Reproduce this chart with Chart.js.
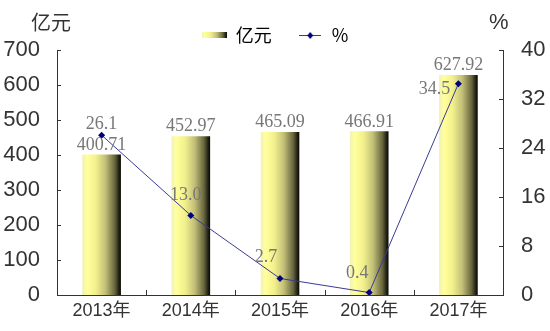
<!DOCTYPE html>
<html>
<head>
<meta charset="utf-8">
<script src="https://cdn.jsdelivr.net/npm/chart.js@4/dist/chart.umd.min.js"></script>
<style>
html, body { margin: 0; padding: 0; background: #fff; }
</style>
</head>
<body>
<canvas id="chart" width="550" height="331"></canvas>
<script>
// 数据
const years = ['2013年', '2014年', '2015年', '2016年', '2017年'];
const amount = [400.71, 452.97, 465.09, 466.91, 627.92];   // 亿元
const growth = [26.1, 13.0, 2.7, 0.4, 34.5];                // %
const amountLabels = ['400.71', '452.97', '465.09', '466.91', '627.92'];
const growthLabels = ['26.1', '13.0', '2.7', '0.4', '34.5'];

const SANS = '"Liberation Sans", Arial, "Noto Sans CJK SC", sans-serif';
const CJK = '"Noto Sans CJK SC", "Liberation Sans", sans-serif';
const SERIF = '"Liberation Serif", "Times New Roman", serif';

// 数值标签相对点的偏移 (样式)
const growthOffsets = [[0, -11], [-5, -20], [-14, -21], [-12, -19], [-24, 6]];

function fillGradient(ctx, x0, x1) {
    const g = ctx.createLinearGradient(x0, 0, x1, 0);
    g.addColorStop(0, '#f2f2b8');
    g.addColorStop(0.12, '#ffff9c');
    g.addColorStop(0.35, '#f2f08c');
    g.addColorStop(0.6, '#c2bf78');
    g.addColorStop(0.85, '#66643c');
    g.addColorStop(0.96, '#1e1e12');
    g.addColorStop(1, '#0c0c06');
    return g;
}

// 图例小图标
function makeBarKey() {
    const c = document.createElement('canvas');
    c.width = 25; c.height = 6;
    const x = c.getContext('2d');
    x.fillStyle = fillGradient(x, 0, 25);
    x.fillRect(0, 0, 25, 6);
    return c;
}
function makeLineKey() {
    const c = document.createElement('canvas');
    c.width = 22; c.height = 8;
    const x = c.getContext('2d');
    x.strokeStyle = '#3a3a96';
    x.lineWidth = 1;
    x.beginPath(); x.moveTo(0, 4.5); x.lineTo(22, 4.5); x.stroke();
    x.fillStyle = '#00007a';
    x.beginPath(); x.moveTo(11, 1); x.lineTo(14, 4.5); x.lineTo(11, 8); x.lineTo(8, 4.5); x.closePath(); x.fill();
    return c;
}
const barKey = makeBarKey();
const lineKey = makeLineKey();

const legendHeight = {
    id: 'legendHeight',
    beforeInit(chart) {
        const fit = chart.legend.fit;
        chart.legend.fit = function () {
            fit.bind(chart.legend)();
            this.height = 50;
        };
    }
};

const inTicks = {
    id: 'inTicks',
    afterDraw(chart) {
        const { ctx, chartArea: a, scales } = chart;
        ctx.save();
        ctx.strokeStyle = '#333';
        ctx.lineWidth = 1;
        ctx.beginPath();
        scales.y.ticks.forEach(t => {
            const y = Math.round(scales.y.getPixelForValue(t.value)) + 0.5;
            ctx.moveTo(a.left, y); ctx.lineTo(a.left + 4, y);
        });
        scales.y1.ticks.forEach(t => {
            const y = Math.round(scales.y1.getPixelForValue(t.value)) + 0.5;
            ctx.moveTo(a.right, y); ctx.lineTo(a.right - 4, y);
        });
        for (let i = 1; i < years.length; i++) {
            const x = Math.round((scales.x.getPixelForValue(i - 1) + scales.x.getPixelForValue(i)) / 2) + 0.5;
            ctx.moveTo(x, a.bottom); ctx.lineTo(x, a.bottom - 5);
        }
        ctx.stroke();

        // 轴标题
        ctx.fillStyle = '#333';
        ctx.font = '20px ' + CJK;
        ctx.textBaseline = 'middle';
        ctx.textAlign = 'left';
        ctx.fillText('亿元', 31, 22);
        ctx.font = '22px ' + SANS;
        ctx.fillText('%', 489, 23);
        ctx.restore();
    }
};

const valueLabels = {
    id: 'valueLabels',
    afterDatasetsDraw(chart) {
        const ctx = chart.ctx;
        ctx.save();
        ctx.font = '18px ' + SERIF;
        ctx.fillStyle = '#777';
        ctx.textAlign = 'center';
        ctx.textBaseline = 'alphabetic';
        chart.getDatasetMeta(0).data.forEach((bar, i) => {
            ctx.fillText(amountLabels[i], bar.x, bar.y - 5);
        });
        ctx.textBaseline = 'middle';
        chart.getDatasetMeta(1).data.forEach((pt, i) => {
            const o = growthOffsets[i];
            ctx.fillText(growthLabels[i], pt.x + o[0], pt.y + o[1]);
        });
        ctx.restore();
    }
};

const ctx = document.getElementById('chart').getContext('2d');
new Chart(ctx, {
    type: 'bar',
    data: {
        labels: years,
        datasets: [
            {
                label: '亿元',
                data: amount,
                yAxisID: 'y',
                order: 1,
                barThickness: 38,
                borderWidth: 0,
                backgroundColor: c => {
                    if (c.dataIndex === undefined) return '#ffff99';
                    const x = c.chart.scales.x.getPixelForValue(c.dataIndex);
                    return fillGradient(c.chart.ctx, x - 19, x + 19);
                }
            },
            {
                type: 'line',
                label: '%',
                data: growth,
                yAxisID: 'y1',
                order: 0,
                borderColor: '#3a3a96',
                borderWidth: 1,
                pointStyle: 'rectRot',
                pointRadius: 3.5,
                pointBackgroundColor: '#00007a',
                pointBorderColor: '#00007a',
                pointBorderWidth: 0,
                fill: false,
                tension: 0
            }
        ]
    },
    options: {
        responsive: false,
        animation: false,
        layout: { padding: 0 },
        plugins: {
            tooltip: { enabled: false },
            legend: {
                position: 'top',
                labels: {
                    usePointStyle: true,
                    pointStyleWidth: 25,
                    padding: 26,
                    color: '#333',
                    font: { family: CJK, size: 18 },
                    generateLabels: () => [
                        { text: '亿元', pointStyle: barKey, datasetIndex: 0, hidden: false,
                          fillStyle: 'transparent', strokeStyle: 'transparent', lineWidth: 0 },
                        { text: '%', pointStyle: lineKey, datasetIndex: 1, hidden: false,
                          fillStyle: 'transparent', strokeStyle: 'transparent', lineWidth: 0 }
                    ]
                }
            }
        },
        scales: {
            x: {
                grid: { display: false },
                border: { display: true, color: '#333', width: 1 },
                ticks: { color: '#333', padding: -3, font: { family: SANS, size: 18 } },
                afterFit: s => { s.height = 36; }
            },
            y: {
                position: 'left',
                min: 0,
                max: 700,
                ticks: { stepSize: 100, color: '#333', padding: 9, font: { family: SANS, size: 22 } },
                grid: { display: false },
                border: { display: true, color: '#333', width: 1 },
                afterFit: s => { s.width = 57; }
            },
            y1: {
                position: 'right',
                min: 0,
                max: 40,
                ticks: { stepSize: 8, color: '#333', padding: 10, font: { family: SANS, size: 22 } },
                grid: { display: false },
                border: { display: true, color: '#333', width: 1 },
                afterFit: s => { s.width = 47; }
            }
        }
    },
    plugins: [legendHeight, inTicks, valueLabels]
});
</script>
</body>
</html>
